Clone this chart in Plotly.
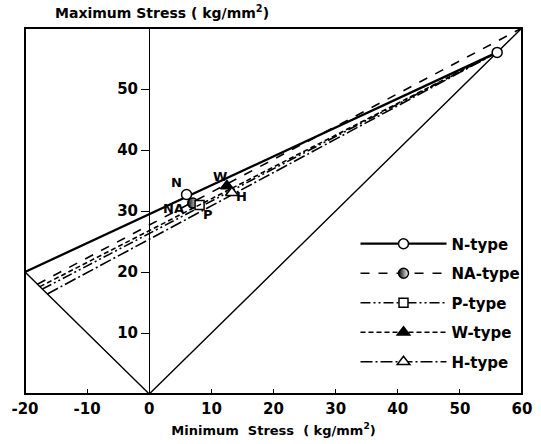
import plotly.graph_objects as go

# ---- data ----
types = ["N-type", "NA-type", "P-type", "W-type", "H-type"]
point_labels = ["N", "NA", "P", "W", "H"]
# endurance (fatigue) limit on the line  max = -min
limit_min = [-20.0, -18.0, -17.2, -17.6, -16.4]
limit_max = [20.0, 18.0, 17.2, 17.6, 16.4]
# ultimate (tensile) strength on the line max = min
ult_min = [56.0, 60.0, 56.0, 56.0, 56.0]
ult_max = [56.0, 60.0, 56.0, 56.0, 56.0]
# measured points
pt_min = [6.0, 7.0, 8.1, 12.5, 13.3]
pt_max = [32.7, 31.3, 31.0, 34.1, 33.0]
# N-type tensile point
n_ult_min = [56.0]
n_ult_max = [56.0]
# boundary lines of the diagram
bound_min = [-20, 0, 60]
bound_max = [20, 0, 60]
x_ticks = [-20, -10, 0, 10, 20, 30, 40, 50, 60]
x_ticktext = ["-20", "-10", "0", "10", "20", "30", "40", "50", "60"]
y_ticks = [10, 20, 30, 40, 50]
y_ticktext = ["10", "20", "30", "40", "50"]

# ---- styles ----
dashes = ["solid", "dash", "10px,3px,2px,3px,2px,3px", "5px,3px", "12px,3px,2px,3px"]
widths = [2.3, 1.6, 1.6, 1.6, 1.6]
symbols = ["circle", "circle", "square", "triangle-up", "triangle-up"]
fills = ["white", "black", "white", "black", "white"]
sizes = [10, 10, 9, 11, 11]
label_shift = [(-10, 12), (-19, -5), (8, -10), (-7, 9), (10, -4)]

FONT = "DejaVu Sans"
fig = go.Figure()

# boundary lines (max = -min and max = min)
fig.add_trace(go.Scatter(x=bound_min, y=bound_max, mode="lines",
                         line=dict(color="black", width=1.4),
                         showlegend=False, hoverinfo="skip"))

for i, t in enumerate(types):
    marker = dict(symbol=symbols[i], size=sizes[i], color=fills[i],
                  line=dict(color="black", width=1.5))
    if i == 1:
        marker["gradient"] = dict(type="horizontal", color="white")
    fig.add_trace(go.Scatter(x=[limit_min[i], ult_min[i]], y=[limit_max[i], ult_max[i]],
                             mode="lines", line=dict(color="black", width=widths[i], dash=dashes[i]),
                             legendgroup=t, showlegend=False, hoverinfo="skip"))
    fig.add_trace(go.Scatter(x=[pt_min[i]], y=[pt_max[i]], mode="lines+markers",
                             line=dict(color="black", width=widths[i], dash=dashes[i]),
                             marker=marker, name=t, legendgroup=t))
    fig.add_annotation(x=pt_min[i], y=pt_max[i], text=point_labels[i], showarrow=False,
                       xshift=label_shift[i][0], yshift=label_shift[i][1],
                       font=dict(family=FONT, size=13, color="black", weight="bold"))

fig.add_trace(go.Scatter(x=n_ult_min, y=n_ult_max, mode="markers",
                         marker=dict(symbol="circle", size=10, color="white",
                                     line=dict(color="black", width=1.5)),
                         showlegend=False, hoverinfo="skip"))

fig.add_shape(type="rect", xref="paper", yref="paper", x0=0, y0=0, x1=1, y1=1,
              line=dict(color="black", width=2))

fig.update_layout(
    width=541, height=444,
    margin=dict(l=25, r=19, t=28, b=50),
    paper_bgcolor="white", plot_bgcolor="white",
    font=dict(family=FONT, size=13, color="black"),
    xaxis=dict(range=[-20, 60], tickvals=x_ticks, ticktext=x_ticktext,
               ticks="inside", ticklen=5, tickwidth=1.2, tickcolor="black",
               ticklabelstandoff=4, automargin=False,
               showgrid=False, zeroline=False, showline=False,
               tickfont=dict(family=FONT, size=15, weight="bold"),
               title=dict(text="Minimum  Stress  ( kg/mm<sup>2</sup>)", standoff=8,
                          font=dict(family=FONT, size=13, weight="bold"))),
    yaxis=dict(range=[0, 60], anchor="free", position=0.25, tickvals=y_ticks,
               ticktext=y_ticktext, ticks="outside", ticklen=8, tickwidth=1.4,
               tickcolor="black", showline=True, linewidth=1.4, linecolor="black",
               showgrid=False, zeroline=False, automargin=False,
               tickfont=dict(family=FONT, size=15, weight="bold")),
    yaxis2=dict(range=[0, 60], overlaying="y", anchor="free", position=0.25,
                tickvals=y_ticks, ticks="inside", ticklen=8, tickwidth=1.4,
                tickcolor="black", showticklabels=False, showgrid=False,
                zeroline=False, showline=False, automargin=False),
    legend=dict(x=0.665, y=0.455, xanchor="left", yanchor="top", bgcolor="rgba(0,0,0,0)",
                itemwidth=86, tracegroupgap=7, traceorder="grouped",
                font=dict(family=FONT, size=15, weight="bold")),
    annotations=list(fig.layout.annotations) + [
        dict(text="Maximum Stress ( kg/mm<sup>2</sup>)", xref="paper", yref="paper",
             x=0.056, y=1, yshift=5, xanchor="left", yanchor="bottom", showarrow=False,
             font=dict(family=FONT, size=14, weight="bold"))
    ],
)

fig.write_html("out.html")
